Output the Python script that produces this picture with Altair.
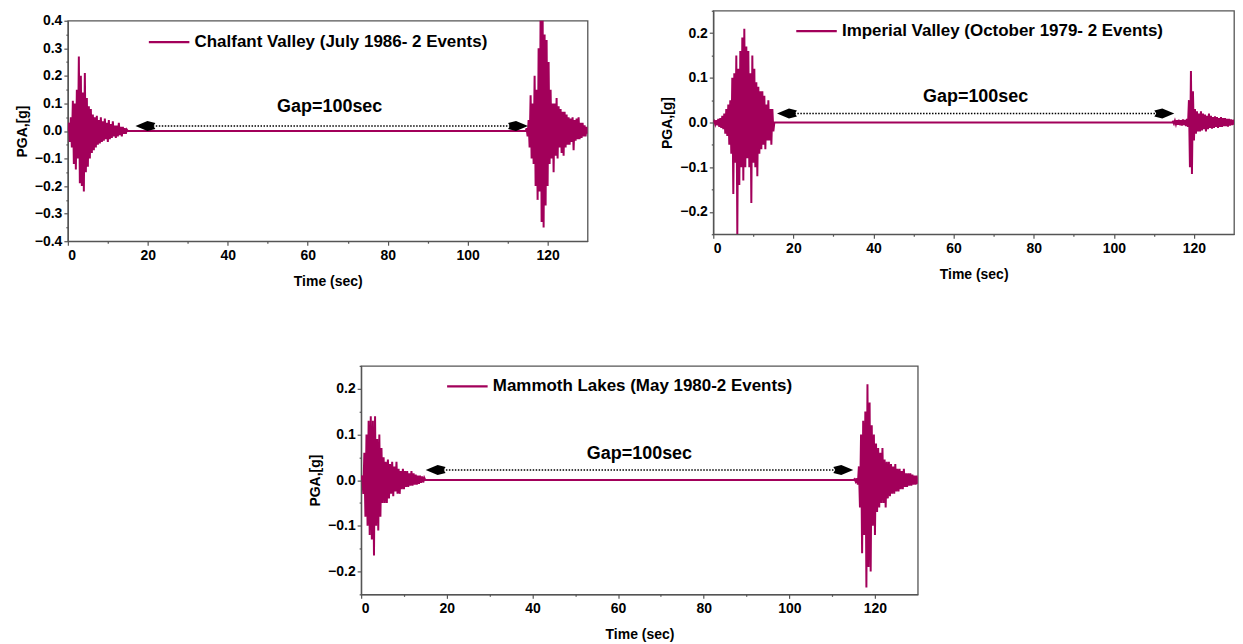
import altair as alt
import pandas as pd

# ---------------- data ----------------
STEP = 0.25

names = [
    "Chalfant Valley (July 1986- 2 Events)",
    "Imperial Valley (October 1979- 2 Events)",
    "Mammoth Lakes (May 1980-2 Events)",
]

chalfant_e1_start = 0.0
chalfant_e1 = [0.0, 0.03, -0.04, 0.05, -0.06, 0.11, -0.12, 0.1, -0.14, 0.15, -0.1, 0.27,
               -0.19, 0.2, -0.2, 0.14, -0.22, 0.21, -0.15, 0.12, -0.13, 0.09, -0.1, 0.08,
               -0.08, 0.06, -0.07, 0.05, -0.06, 0.055, -0.05, 0.04, -0.045, 0.05, -0.04, 0.035,
               -0.035, 0.045, -0.03, 0.03, -0.04, 0.04, -0.03, 0.025, -0.025, 0.035, -0.02, 0.02,
               -0.025, 0.02, -0.02, 0.03, -0.015, 0.015, -0.02, 0.015, -0.01, 0.01, -0.01, 0.005, 0.0]
chalfant_e2_start = 114.5
chalfant_e2 = [0.0, 0.01, -0.02, 0.04, -0.06, 0.13, -0.1, 0.1, -0.12, 0.2, -0.2, 0.15,
               -0.25, 0.3, -0.22, 0.45, -0.33, 0.45, -0.35, 0.35, -0.27, 0.33, -0.2, 0.25,
               -0.12, 0.15, -0.1, 0.1, -0.15, 0.1, -0.09, 0.12, -0.1, 0.09, -0.06, 0.08,
               -0.08, 0.07, -0.09, 0.07, -0.06, 0.06, -0.05, 0.05, -0.05, 0.045, -0.04, 0.05,
               -0.07, 0.04, -0.035, 0.045, -0.03, 0.05, -0.03, 0.03, -0.025, 0.03, -0.02, 0.02,
               -0.02, 0.015, -0.01]

imperial_e1_start = 0.0
imperial_e1 = [0.0, 0.003, -0.004, 0.005, -0.006, 0.008, -0.01, 0.01, -0.012, 0.015, -0.015, 0.02,
               -0.025, 0.03, -0.03, 0.04, -0.05, 0.05, -0.07, 0.1, -0.16, 0.11, -0.09, 0.15,
               -0.25, 0.12, -0.14, 0.16, -0.1, 0.19, -0.13, 0.21, -0.1, 0.17, -0.08, 0.16,
               -0.1, 0.11, -0.18, 0.15, -0.09, 0.12, -0.1, 0.09, -0.12, 0.08, -0.07, 0.07,
               -0.06, 0.07, -0.05, 0.06, -0.06, 0.04, -0.04, 0.05, -0.04, 0.03, -0.05, 0.03,
               -0.02, 0.0]
imperial_e2_start = 114.5
imperial_e2 = [0.0, 0.002, -0.003, 0.004, -0.004, 0.005, -0.005, 0.006, -0.006, 0.005, -0.007, 0.007,
               -0.006, 0.006, -0.008, 0.008, -0.01, 0.05, -0.1, 0.115, -0.115, 0.07, -0.04, 0.03,
               -0.025, 0.025, -0.02, 0.02, -0.02, 0.025, -0.018, 0.02, -0.015, 0.018, -0.02, 0.015,
               -0.015, 0.02, -0.012, 0.015, -0.014, 0.012, -0.012, 0.014, -0.01, 0.012, -0.012, 0.01,
               -0.01, 0.012, -0.01, 0.01, -0.008, 0.01, -0.008, 0.008, -0.009, 0.008, -0.007, 0.007,
               -0.006, 0.006, -0.005]

mammoth_e1_start = 0.0
mammoth_e1 = [0.0, 0.01, -0.03, 0.06, -0.08, 0.1, -0.1, 0.13, -0.12, 0.14, -0.13, 0.13,
              -0.165, 0.14, -0.1, 0.09, -0.11, 0.1, -0.08, 0.07, -0.05, 0.05, -0.05, 0.04,
              -0.05, 0.045, -0.04, 0.035, -0.03, 0.04, -0.035, 0.03, -0.025, 0.04, -0.03, 0.025,
              -0.03, 0.02, -0.02, 0.025, -0.02, 0.02, -0.015, 0.02, -0.015, 0.015, -0.012, 0.02,
              -0.012, 0.015, -0.01, 0.012, -0.01, 0.01, -0.008, 0.01, -0.006, 0.008, -0.005, 0.005, 0.0]
mammoth_e2_start = 115.0
mammoth_e2 = [0.0, 0.002, -0.003, 0.004, -0.01, 0.03, -0.06, 0.1, -0.16, 0.13, -0.12, 0.15,
              -0.235, 0.21, -0.19, 0.17, -0.2, 0.12, -0.1, 0.1, -0.12, 0.08, -0.07, 0.07,
              -0.06, 0.06, -0.05, 0.07, -0.05, 0.045, -0.06, 0.04, -0.04, 0.04, -0.035, 0.035,
              -0.03, 0.03, -0.03, 0.035, -0.025, 0.025, -0.025, 0.025, -0.02, 0.02, -0.02, 0.025,
              -0.015, 0.015, -0.015, 0.015, -0.012, 0.015, -0.012, 0.012, -0.01, 0.01, -0.01, 0.01, -0.008]

y_domains = [[-0.4, 0.4], [-0.25, 0.25], [-0.25, 0.25]]
y_tick_values = [
    [round(-0.4 + 0.05 * i, 2) for i in range(17)],
    [round(-0.25 + 0.05 * i, 2) for i in range(11)],
    [round(-0.25 + 0.05 * i, 2) for i in range(11)],
]
x_tick_values = [0, 10, 20, 30, 40, 50, 60, 70, 80, 90, 100, 110, 120]

gap_label = "Gap=100sec"
gap_text_t = [65.5, 65.5, 65.0]
gap_text_pga = [0.087, 0.056, 0.057]
arrow_pga = [0.018, 0.02, 0.022]
arrow_left_t = [17.0, 16.0, 15.0]
arrow_right_t = [115.0, 115.0, 115.0]

# ---------------- styling ----------------
RED = "#a2005a"
FONT = "Liberation Sans"
LEFT_HEAD = "M -1 0 L 0.2 -0.5 L 1 -0.3 L 0.8 0 L 1 0.3 L 0.2 0.5 Z"
RIGHT_HEAD = "M 1 0 L -0.2 -0.5 L -1 -0.3 L -0.8 0 L -1 0.3 L -0.2 0.5 Z"


def trace_frame(name, s1, v1, s2, v2):
    t = [s1 + i * STEP for i in range(len(v1))] + [s2 + i * STEP for i in range(len(v2))]
    return pd.DataFrame({"t": t, "pga": v1 + v2, "label": name})


def panel(k, df, width, height, legend_x, legend_y):
    xs = alt.Scale(domain=[0, 130], nice=False, zero=False)
    ys = alt.Scale(domain=y_domains[k], nice=False, zero=False)
    xaxis = alt.Axis(
        values=x_tick_values,
        labelExpr="datum.value % 20 === 0 ? datum.label : ''",
        tickSize={"condition": {"test": "datum.value % 20 === 0", "value": 4}, "value": 2},
        labelPadding=3, titlePadding=12, format="d",
    )
    yaxis = alt.Axis(
        values=y_tick_values[k],
        labelExpr="abs(round(datum.value * 100)) % 10 === 0 ? format(datum.value, '.1f') : ''",
        tickSize={"condition": {"test": "abs(round(datum.value * 100)) % 10 === 0", "value": 4}, "value": 2},
        labelPadding=2, titlePadding=5,
    )

    def X(f):
        return alt.X(f, scale=xs, axis=xaxis, title="Time (sec)")

    def Y(f):
        return alt.Y(f, scale=ys, axis=yaxis, title="PGA,[g]")

    line = alt.Chart(df).mark_line(strokeWidth=2, clip=True, strokeJoin="miter").encode(
        x=X("t:Q"), y=Y("pga:Q"),
        color=alt.Color("label:N", scale=alt.Scale(range=[RED]),
                        legend=alt.Legend(orient="none", legendX=legend_x, legendY=legend_y,
                                          title=None, symbolType="stroke", symbolSize=1650,
                                          symbolStrokeWidth=2.2, labelFont=FONT,
                                          labelFontSize=17, labelFontWeight="bold",
                                          labelColor="black", labelOffset=4, padding=0,
                                          labelLimit=700)),
    )
    arrow_df = pd.DataFrame({"t": [arrow_left_t[k] + 2], "t2": [arrow_right_t[k] - 2],
                             "pga": [arrow_pga[k]]})
    rule = alt.Chart(arrow_df).mark_rule(color="black", strokeWidth=1.5, strokeDash=[1.5, 1.5]).encode(
        x=X("t:Q"), x2="t2:Q", y=Y("pga:Q"))
    heads_df = pd.DataFrame({"t": [arrow_left_t[k] + 2.4, arrow_right_t[k] - 2.4],
                             "pga": [arrow_pga[k]] * 2, "dir": ["left", "right"]})
    heads = alt.Chart(heads_df).mark_point(filled=True, color="black", opacity=1, size=400).encode(
        x=X("t:Q"), y=Y("pga:Q"),
        shape=alt.Shape("dir:N", scale=alt.Scale(domain=["left", "right"], range=[LEFT_HEAD, RIGHT_HEAD]),
                        legend=None))
    text_df = pd.DataFrame({"t": [gap_text_t[k]], "pga": [gap_text_pga[k]], "txt": [gap_label]})
    text = alt.Chart(text_df).mark_text(font=FONT, fontSize=18, fontWeight="bold", color="black",
                                        align="center", baseline="middle").encode(
        x=X("t:Q"), y=Y("pga:Q"), text="txt:N")
    return alt.layer(line, rule, heads, text).properties(width=width, height=height)


def spacer(w, h):
    return alt.Chart(pd.DataFrame({"t": [0]})).mark_point(opacity=0, size=0).encode(
        x=alt.X("t:Q", axis=None), y=alt.Y("t:Q", axis=None)
    ).properties(width=w, height=h, view=alt.ViewBackground(stroke="transparent"))


df1 = trace_frame(names[0], chalfant_e1_start, chalfant_e1, chalfant_e2_start, chalfant_e2)
df2 = trace_frame(names[1], imperial_e1_start, imperial_e1, imperial_e2_start, imperial_e2)
df3 = trace_frame(names[2], mammoth_e1_start, mammoth_e1, mammoth_e2_start, mammoth_e2)

p1 = panel(0, df1, 521, 221, 80, 0)
p2 = panel(1, df2, 522, 224, 82, -1)
p3 = panel(2, df3, 558, 229, 85, -1)

left_col = alt.vconcat(spacer(1, 1), p1, spacing=0).resolve_scale(color="independent", shape="independent")
top = alt.hconcat(left_col, p2, spacing=71).resolve_scale(color="independent", shape="independent")
bottom = alt.hconcat(spacer(239, 10), p3, spacing=0).resolve_scale(color="independent", shape="independent")

chart = alt.vconcat(top, bottom, spacing=75).resolve_scale(
    color="independent", shape="independent"
).properties(
    padding={"left": 6, "top": 0, "right": 0, "bottom": 0}
).configure_axis(
    labelFont=FONT, labelFontWeight="bold", labelFontSize=14, labelColor="black",
    titleFont=FONT, titleFontWeight="bold", titleFontSize=14, titleColor="black",
    domainColor="#555555", domainWidth=1.3, tickColor="#555555", tickWidth=1.2, grid=False,
).configure_view(stroke="#555555", strokeWidth=1.3)

chart.save("out.html", embed_options={"renderer": "svg", "actions": False})
